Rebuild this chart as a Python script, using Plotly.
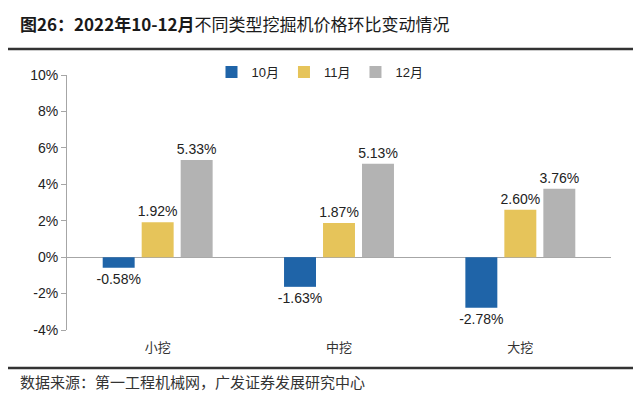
import plotly.graph_objects as go

categories = ["小挖", "中挖", "大挖"]
series_names = ["10月", "11月", "12月"]
oct_vals = [-0.58, -1.63, -2.78]
nov_vals = [1.92, 1.87, 2.60]
dec_vals = [5.33, 5.13, 3.76]
tick_vals = [-4, -2, 0, 2, 4, 6, 8, 10]
tick_text = ["-4%", "-2%", "0%", "2%", "4%", "6%", "8%", "10%"]

colors = ["#1F64A8", "#E6C45A", "#B3B3B3"]

L, R, T, B = 67, 611, 75, 330
PW, PH = R - L, B - T


def px(x):
    return (x - L) / PW


def py(y):
    return (B - y) / PH


fig = go.Figure()
for name, vals, c in zip(series_names, [oct_vals, nov_vals, dec_vals], colors):
    fig.add_trace(go.Bar(
        x=categories, y=vals, name=name, marker_color=c, marker_line_width=0,
        text=[f"{v:.2f}%" for v in vals], textposition="outside",
        constraintext="none",
        textfont=dict(family="Liberation Sans, Arial, sans-serif", size=14, color="#222"),
        cliponaxis=False,
    ))

fig.update_layout(
    width=640, height=395,
    margin=dict(l=L, r=640 - R, t=T, b=395 - B, autoexpand=False),
    paper_bgcolor="white", plot_bgcolor="white",
    barmode="group", bargap=0.355, bargroupgap=0.18,
    showlegend=True,
    legend=dict(orientation="h", xref="paper", yref="paper",
                x=px(320), xanchor="center", y=py(72), yanchor="middle",
                font=dict(family="Liberation Sans, Noto Sans CJK SC", size=13, color="#222"),
                itemwidth=30, tracegroupgap=0, bgcolor="rgba(0,0,0,0)"),
    font=dict(family="Liberation Sans, Noto Sans CJK SC", color="#222"),
)
fig.update_yaxes(range=[-4, 10], tickvals=tick_vals, ticktext=tick_text, automargin=False,
                 showgrid=False, zeroline=True, zerolinecolor="#A6A6A6", zerolinewidth=1,
                 showline=True, linecolor="#A6A6A6", linewidth=1,
                 ticks="outside", ticklen=5, tickcolor="#A6A6A6",
                 tickfont=dict(family="Liberation Sans, Arial", size=14, color="#222"))
fig.update_xaxes(showgrid=False, showline=False, ticks="", automargin=False,
                 tickfont=dict(family="Noto Sans CJK SC", size=13, color="#333"),
                 ticklabelstandoff=8)

fig.add_annotation(
    text="<b>图26：2022年10-12月</b>不同类型挖掘机价格环比变动情况",
    xref="paper", yref="paper", x=px(18), y=py(23),
    xanchor="left", yanchor="middle", showarrow=False,
    font=dict(family="Noto Sans CJK SC", size=17, color="#1a1a1a"))
fig.add_annotation(
    text="数据来源：第一工程机械网，广发证券发展研究中心",
    xref="paper", yref="paper", x=px(18), y=py(381),
    xanchor="left", yanchor="middle", showarrow=False,
    font=dict(family="Noto Sans CJK SC", size=15, color="#333"))
for yy in [49, 368]:
    fig.add_shape(type="line", xref="paper", yref="paper",
                  x0=px(8), x1=px(633), y0=py(yy), y1=py(yy),
                  line=dict(color="#333", width=2.5))

fig.write_html("out.html", config={"displayModeBar": False},
               post_script="document.body.style.margin='0';")
